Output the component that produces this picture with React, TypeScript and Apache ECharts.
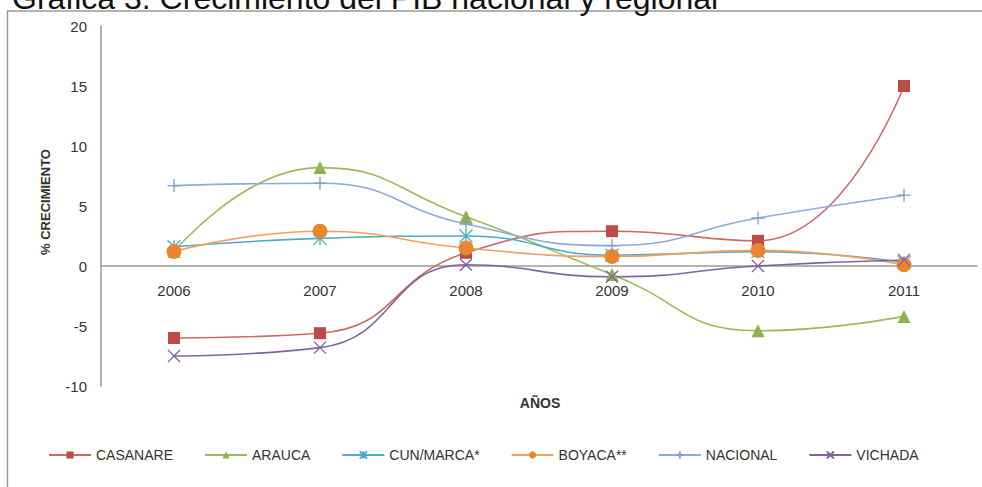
import React, { useEffect, useRef } from "react";
import * as echarts from "echarts";

const years = ["2006", "2007", "2008", "2009", "2010", "2011"];
const casanare = [-6.0, -5.6, 1.1, 2.9, 2.1, 15.0];
const arauca = [1.2, 8.2, 4.1, -0.7, -5.4, -4.2];
const cunMarca = [1.6, 2.3, 2.5, 0.9, 1.2, 0.3];
const boyaca = [1.2, 2.9, 1.5, 0.8, 1.3, 0.1];
const nacional = [6.7, 6.9, 3.5, 1.7, 4.0, 5.9];
const vichada = [-7.5, -6.8, 0.1, -0.9, 0.0, 0.5];
const yTicks = [-10, -5, 0, 5, 10, 15, 20];

const FONT = "'Liberation Sans', Arial, sans-serif";

const ASTERISK = "path://M0,0 L10,10 M10,0 L0,10 M5,0 L5,10";
const PLUS = "path://M0,5 L10,5 M5,0 L5,10";
const CROSS = "path://M0,0 L10,10 M10,0 L0,10";

function mk(name: string, data: number[], color: string, lineColor: string, symbol: string, size: number, stroke = false) {
  return {
    name,
    type: "line",
    data,
    smooth: 0.5,
    symbol,
    symbolSize: size,
    showSymbol: true,
    lineStyle: { color: lineColor, width: 1.6 },
    itemStyle: stroke
      ? { color: color, borderColor: color, borderWidth: 1.3 }
      : { color: color, borderWidth: 0 },
    emphasis: { disabled: true },
  };
}

export default function App() {
  const ref = useRef<HTMLDivElement>(null);
  useEffect(() => {
    if (!ref.current) return;
    const chart = echarts.init(ref.current, null, { renderer: "svg" });
    const gridTop = 26;
    const gridBottom = 101;
    const plotH = 487 - gridTop - gridBottom;
    const yMin = yTicks[0];
    const yMax = yTicks[yTicks.length - 1];
    // place the category axis at value 0 (line and labels together)
    const zeroOffset = -(plotH * (0 - yMin)) / (yMax - yMin);
    chart.setOption({
      animation: false,
      backgroundColor: "#ffffff",
      grid: { left: 101, right: 5, top: gridTop, bottom: gridBottom, outerBoundsMode: "none" },
      xAxis: {
        type: "category",
        data: years,
        boundaryGap: true,
        offset: zeroOffset,
        axisLine: { onZero: false, lineStyle: { color: "#9a9a9a", width: 1.5 } },
        axisTick: { show: false },
        axisLabel: { color: "#333333", fontFamily: FONT, fontSize: 15, margin: 17 },
      },
      yAxis: {
        type: "value",
        min: yMin,
        max: yMax,
        interval: 5,
        axisLine: { show: true, lineStyle: { color: "#9a9a9a", width: 1.5 } },
        axisTick: { show: false },
        splitLine: { show: false },
        axisLabel: { color: "#333333", fontFamily: FONT, fontSize: 15, margin: 14 },
      },
      legend: {
        top: 443,
        left: 43,
        itemWidth: 42,
        itemHeight: 9,
        itemGap: 31,
        textStyle: { color: "#333333", fontFamily: FONT, fontSize: 14 },
        data: ["CASANARE", "ARAUCA", "CUN/MARCA*", "BOYACA**", "NACIONAL", "VICHADA"],
      },
      graphic: [
        {
          type: "rect",
          shape: { x: 7.5, y: 11, width: 1100, height: 600 },
          style: { fill: "none", stroke: "#9a9a9a", lineWidth: 1.5 },
          silent: true,
        },
        {
          type: "text",
          x: 12,
          y: 14,
          style: {
            text: "Gráfica 3. Crecimiento del PIB nacional y regional",
            font: "32px " + FONT,
            fill: "#111111",
            verticalAlign: "bottom",
          },
          silent: true,
        },
        {
          type: "text",
          x: 45,
          y: 202,
          rotation: Math.PI / 2,
          style: {
            text: "% CRECIMIENTO",
            font: "bold 13px " + FONT,
            fill: "#333333",
            align: "center",
            verticalAlign: "middle",
          },
          silent: true,
        },
        {
          type: "text",
          x: 540,
          y: 403,
          style: {
            text: "AÑOS",
            font: "bold 14px " + FONT,
            fill: "#333333",
            align: "center",
            verticalAlign: "middle",
          },
          silent: true,
        },
      ],
      series: [
        mk("CASANARE", casanare, "#BE4B48", "#CB6B68", "rect", 12),
        mk("ARAUCA", arauca, "#8DB34C", "#9BBB59", "triangle", 13),
        mk("CUN/MARCA*", cunMarca, "#4BACC6", "#4BACC6", ASTERISK, 13, true),
        mk("BOYACA**", boyaca, "#E8872F", "#F2A060", "circle", 15),
        mk("NACIONAL", nacional, "#7C9BD3", "#8EA9DB", PLUS, 13, true),
        mk("VICHADA", vichada, "#7F5FA6", "#8064A2", CROSS, 12, true),
      ],
    });
    return () => chart.dispose();
  }, []);
  return (
    <div
      ref={ref}
      style={{ position: "fixed", left: 0, top: 0, width: 982, height: 487 }}
    />
  );
}
